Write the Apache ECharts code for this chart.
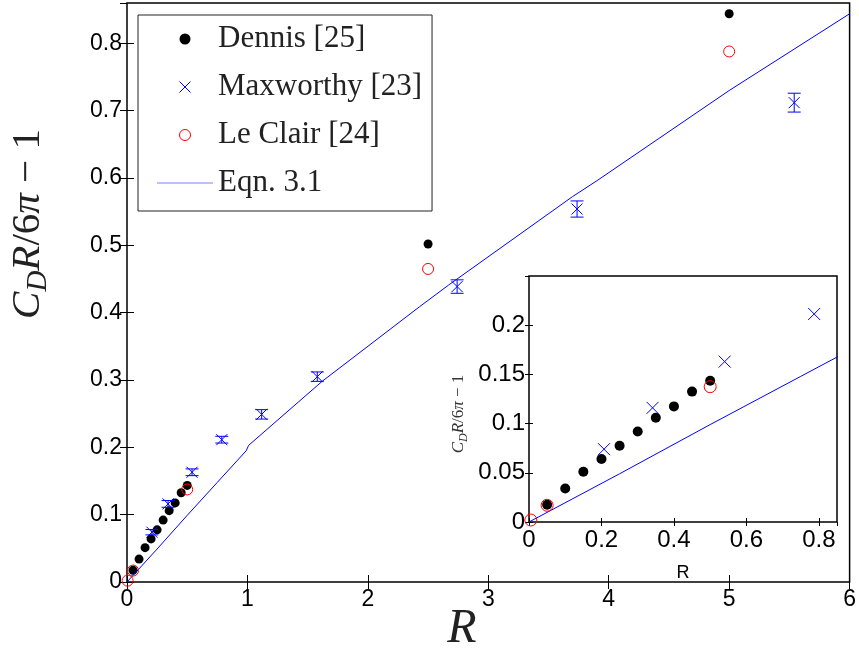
<!DOCTYPE html>
<html>
<head>
<meta charset="utf-8">
<script src="https://cdn.jsdelivr.net/npm/echarts@6/dist/echarts.min.js"></script>
<style>html,body{margin:0;padding:0;background:#fff}#c{width:859px;height:649px}</style>
</head>
<body>
<div id="c"></div>
<script>
// ---- data ----
const dennisR = [0.05, 0.10, 0.15, 0.20, 0.25, 0.30, 0.35, 0.40, 0.45, 0.50, 2.5, 5.0];
const dennisY = [0.0175, 0.034, 0.051, 0.064, 0.0775, 0.092, 0.106, 0.1175, 0.1325, 0.1435, 0.502, 0.844];

const maxR = [0.207, 0.341, 0.540, 0.787, 1.118, 1.58, 2.741, 3.737, 5.54];
const maxY = [0.074, 0.116, 0.163, 0.2114, 0.249, 0.305, 0.4388, 0.554, 0.712];
const maxErr = [0.004, 0.005, 0.005, 0.005, 0.007, 0.007, 0.010, 0.012, 0.014];

const leClairR = [0.005, 0.05, 0.5, 2.5, 5.0];
const leClairY = [0.002, 0.017, 0.1375, 0.465, 0.788];

const eqnR = [0, 0.25, 0.5, 0.75, 0.99, 1.01, 1.62, 2.43, 2.67, 3.70, 3.91, 5.0, 6.0];
const eqnY = [0, 0.049, 0.099, 0.148, 0.195, 0.203, 0.298, 0.409, 0.441, 0.5725, 0.597, 0.730, 0.844];

const mainXTicks = {min: 0, max: 6, interval: 1};
const mainYTicks = {min: 0, max: 0.86, interval: 0.1};
const insetXTicks = {min: 0, max: 0.85, interval: 0.2};
const insetYTicks = {min: 0, max: 0.25, interval: 0.05};

const names = ['Dennis [25]', 'Maxworthy [23]', 'Le Clair [24]', 'Eqn. 3.1'];

// ---- build ----
const zip = (a, b) => a.map((v, i) => [v, b[i]]);
const dennis = zip(dennisR, dennisY);
const maxw = zip(maxR, maxY);
const maxwErr = maxR.map((v, i) => [v, maxY[i], maxErr[i]]);
const leclair = zip(leClairR, leClairY);
const eqn = zip(eqnR, eqnY);

const BLUE = '#0000ff', RED = '#ff0000';
const XPATH = 'path://M0,0L10,10M10,0L0,10';
const sans = 'Liberation Sans';
const serif = 'Liberation Serif';

function axisCommon(t, opts) {
  return Object.assign({
    type: 'value', min: t.min, max: t.max, interval: t.interval,
    splitLine: {show: false},
    axisLine: {show: false},
  }, opts);
}

function errorRender(params, api) {
  const x = api.value(0), y = api.value(1), e = api.value(2);
  const top = api.coord([x, y + e]);
  const bot = api.coord([x, y - e]);
  const w = 6.5;
  const st = {stroke: BLUE, lineWidth: 1};
  return {
    type: 'group',
    children: [
      {type: 'line', shape: {x1: top[0], y1: top[1], x2: bot[0], y2: bot[1]}, style: st},
      {type: 'line', shape: {x1: top[0] - w, y1: top[1], x2: top[0] + w, y2: top[1]}, style: st},
      {type: 'line', shape: {x1: bot[0] - w, y1: bot[1], x2: bot[0] + w, y2: bot[1]}, style: st}
    ]
  };
}

const chart = echarts.init(document.getElementById('c'), null, {renderer: 'canvas'});

const mainTick = {show: true, inside: true, length: 7, lineStyle: {color: '#000', width: 1}};
const insetTick = {show: true, inside: true, length: 4, lineStyle: {color: '#000', width: 1}};

const dotStyle = {color: '#000', opacity: 1};
const xStyle = {color: 'transparent', borderColor: BLUE, borderWidth: 1, opacity: 1};
const oStyle = {color: 'transparent', borderColor: RED, borderWidth: 1, opacity: 1};

const option = {
  backgroundColor: '#fff',
  animation: false,
  grid: [
    {left: 127, top: 3, width: 723, height: 579, show: true, borderColor: '#000', borderWidth: 1.5, backgroundColor: '#fff'},
    {left: 529, top: 276, width: 308, height: 246, show: true, borderColor: '#000', borderWidth: 1.5, backgroundColor: '#fff', z: 3}
  ],
  xAxis: [
    axisCommon(mainXTicks, {gridIndex: 0, position: 'bottom', axisTick: mainTick,
      axisLabel: {show: true, margin: 6, fontFamily: sans, fontSize: 23, color: '#000'}}),
    axisCommon(mainXTicks, {gridIndex: 0, position: 'top', axisTick: mainTick, axisLabel: {show: false}}),
    axisCommon(insetXTicks, {gridIndex: 1, position: 'bottom', axisTick: insetTick, z: 4,
      axisLabel: {show: true, margin: 6, fontFamily: sans, fontSize: 24, color: '#000', showMaxLabel: false},
      name: 'R', nameLocation: 'middle', nameGap: 42,
      nameTextStyle: {fontFamily: sans, fontSize: 18, color: '#000'}}),
    axisCommon(insetXTicks, {gridIndex: 1, position: 'top', axisTick: insetTick, axisLabel: {show: false}, z: 4})
  ],
  yAxis: [
    axisCommon(mainYTicks, {gridIndex: 0, position: 'left', axisTick: mainTick,
      axisLabel: {show: true, margin: 5, fontFamily: sans, fontSize: 23, color: '#000', showMaxLabel: false}}),
    axisCommon(mainYTicks, {gridIndex: 0, position: 'right', axisTick: mainTick, axisLabel: {show: false}}),
    axisCommon(insetYTicks, {gridIndex: 1, position: 'left', axisTick: insetTick, z: 4,
      axisLabel: {show: true, margin: 4, fontFamily: sans, fontSize: 24, color: '#000', showMaxLabel: false}}),
    axisCommon(insetYTicks, {gridIndex: 1, position: 'right', axisTick: insetTick, axisLabel: {show: false}, z: 4})
  ],
  legend: {
    orient: 'vertical', left: 138, top: 15,
    itemWidth: 56, itemHeight: 11, itemGap: 14,
    padding: [7, 10, 11, 19],
    borderColor: '#222', borderWidth: 1, backgroundColor: '#fff',
    selectedMode: false,
    textStyle: {fontFamily: serif, fontSize: 31, lineHeight: 34, color: '#222'},
    data: [
      {name: names[0], itemStyle: {color: '#000', opacity: 1}},
      {name: names[1], itemStyle: {borderWidth: 1, borderColor: BLUE, color: 'transparent', opacity: 1}},
      {name: names[2], itemStyle: {borderWidth: 1, borderColor: RED, color: 'transparent', opacity: 1}},
      {name: names[3], icon: 'path://M0,0L100,0L100,1L0,1Z', itemStyle: {color: BLUE, borderWidth: 0}}
    ]
  },
  graphic: [
    {type: 'text', x: 28, y: 224, rotation: Math.PI / 2,
      style: {
        text: '{i|C}{s|D}{i|R}{n|/6}{i|π}{n| − 1}',
        align: 'center', verticalAlign: 'middle',
        rich: {
          i: {fontFamily: serif, fontStyle: 'italic', fontSize: 41, lineHeight: 50, fill: '#222', verticalAlign: 'middle'},
          n: {fontFamily: serif, fontSize: 41, lineHeight: 50, fill: '#222', verticalAlign: 'middle'},
          s: {fontFamily: serif, fontStyle: 'italic', fontSize: 29, lineHeight: 29, fill: '#222', verticalAlign: 'bottom'}
        }
      }},
    {type: 'text', x: 462, y: 629,
      style: {text: 'R', fontFamily: serif, fontStyle: 'italic', fontSize: 48, fill: '#222', align: 'center', verticalAlign: 'middle'}},
    {type: 'text', x: 459, y: 414, rotation: Math.PI / 2, z: 10,
      style: {
        text: '{i|C}{s|D}{i|R}{n|/6}{i|π}{n| − 1}',
        align: 'center', verticalAlign: 'middle',
        rich: {
          i: {fontFamily: serif, fontStyle: 'italic', fontSize: 17, lineHeight: 21, fill: '#333', verticalAlign: 'middle'},
          n: {fontFamily: serif, fontSize: 17, lineHeight: 21, fill: '#333', verticalAlign: 'middle'},
          s: {fontFamily: serif, fontStyle: 'italic', fontSize: 12, lineHeight: 12, fill: '#333', verticalAlign: 'bottom'}
        }
      }}
  ],
  series: [
    // main plot
    {name: names[0], type: 'scatter', xAxisIndex: 0, yAxisIndex: 0, data: dennis,
      symbol: 'circle', symbolSize: 9, itemStyle: dotStyle},
    {name: names[1] + ' err', type: 'custom', xAxisIndex: 0, yAxisIndex: 0, data: maxwErr,
      renderItem: errorRender, z: 3},
    {name: names[1], type: 'scatter', xAxisIndex: 0, yAxisIndex: 0, data: maxw,
      symbol: XPATH, symbolSize: 11, itemStyle: xStyle, z: 3},
    {name: names[2], type: 'scatter', xAxisIndex: 0, yAxisIndex: 0, data: leclair,
      symbol: 'circle', symbolSize: 11, itemStyle: oStyle, z: 4},
    {name: names[3], type: 'line', xAxisIndex: 0, yAxisIndex: 0, data: eqn,
      symbol: 'none', lineStyle: {color: BLUE, width: 1}, itemStyle: {color: BLUE}, z: 4},
    // inset
    {name: names[0], type: 'scatter', xAxisIndex: 2, yAxisIndex: 2, data: dennis, clip: true,
      symbol: 'circle', symbolSize: 10, itemStyle: dotStyle, z: 5},
    {name: names[1], type: 'scatter', xAxisIndex: 2, yAxisIndex: 2, data: maxw, clip: true,
      symbol: XPATH, symbolSize: 12, itemStyle: xStyle, z: 5},
    {name: names[2], type: 'scatter', xAxisIndex: 2, yAxisIndex: 2, data: leclair, clip: true,
      symbol: 'circle', symbolSize: 12, itemStyle: oStyle, z: 6},
    {name: names[3], type: 'line', xAxisIndex: 2, yAxisIndex: 2, data: eqn, clip: true,
      symbol: 'none', lineStyle: {color: BLUE, width: 1}, itemStyle: {color: BLUE}, z: 6}
  ]
};
chart.setOption(option);
</script>
</body>
</html>
